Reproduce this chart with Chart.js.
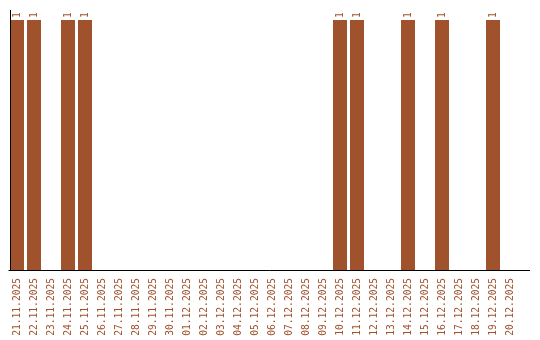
<!DOCTYPE html>
<html>
<head>
<meta charset="utf-8">
<script src="https://cdn.jsdelivr.net/npm/chart.js@4"></script>
<style>
  body { margin: 0; background: #fff; }
</style>
</head>
<body>
<canvas id="myChart" width="540" height="340"></canvas>
<script>
const dias = ['21.11.2025','22.11.2025','23.11.2025','24.11.2025','25.11.2025','26.11.2025',
  '27.11.2025','28.11.2025','29.11.2025','30.11.2025','01.12.2025','02.12.2025','03.12.2025',
  '04.12.2025','05.12.2025','06.12.2025','07.12.2025','08.12.2025','09.12.2025','10.12.2025',
  '11.12.2025','12.12.2025','13.12.2025','14.12.2025','15.12.2025','16.12.2025','17.12.2025',
  '18.12.2025','19.12.2025','20.12.2025'];
const cantidades = [1,1,0,1,1,0,0,0,0,0,0,0,0,0,0,0,0,0,0,1,1,0,0,1,0,1,0,0,1,0];

const marron = '#A0522D';
const fuente = { family: 'DejaVu Sans Mono', size: 9.6 };

// etiquetas encima de cada barra + lineas de los ejes
const extras = {
    id: 'extras',
    afterDatasetsDraw(chart) {
        const ctx = chart.ctx;
        const meta = chart.getDatasetMeta(0);
        ctx.save();
        ctx.fillStyle = marron;
        ctx.font = '9.6px "DejaVu Sans Mono"';
        ctx.textAlign = 'left';
        ctx.textBaseline = 'middle';
        meta.data.forEach((bar, i) => {
            if (!cantidades[i]) return;
            ctx.save();
            ctx.translate(bar.x, bar.y - 2);
            ctx.rotate(-Math.PI / 2);
            ctx.fillText(String(cantidades[i]), 0, 0);
            ctx.restore();
        });
        const a = chart.chartArea;
        ctx.strokeStyle = '#000';
        ctx.lineWidth = 1;
        ctx.beginPath();
        ctx.moveTo(a.left, Math.round(a.bottom) + 0.5);
        ctx.lineTo(530, Math.round(a.bottom) + 0.5);
        ctx.moveTo(10.5, a.top);
        ctx.lineTo(10.5, a.bottom);
        ctx.stroke();
        ctx.restore();
    }
};

new Chart(document.getElementById('myChart'), {
    type: 'bar',
    data: {
        labels: dias,
        datasets: [{
            data: cantidades,
            backgroundColor: marron,
            borderWidth: 0,
            barPercentage: 1,
            categoryPercentage: 14 / 17
        }]
    },
    options: {
        responsive: false,
        animation: false,
        layout: { padding: { left: 8.5, top: 10, right: 21.5, bottom: 0 } },
        plugins: { legend: { display: false }, tooltip: { enabled: false } },
        scales: {
            x: {
                grid: { display: false },
                border: { display: false },
                afterFit: (s) => { s.height = 70; },
                ticks: {
                    color: marron,
                    font: fuente,
                    autoSkip: false,
                    minRotation: 90,
                    maxRotation: 90,
                    padding: 0
                }
            },
            y: {
                display: false,
                min: 0,
                max: 1.04
            }
        }
    },
    plugins: [extras]
});
</script>
</body>
</html>
